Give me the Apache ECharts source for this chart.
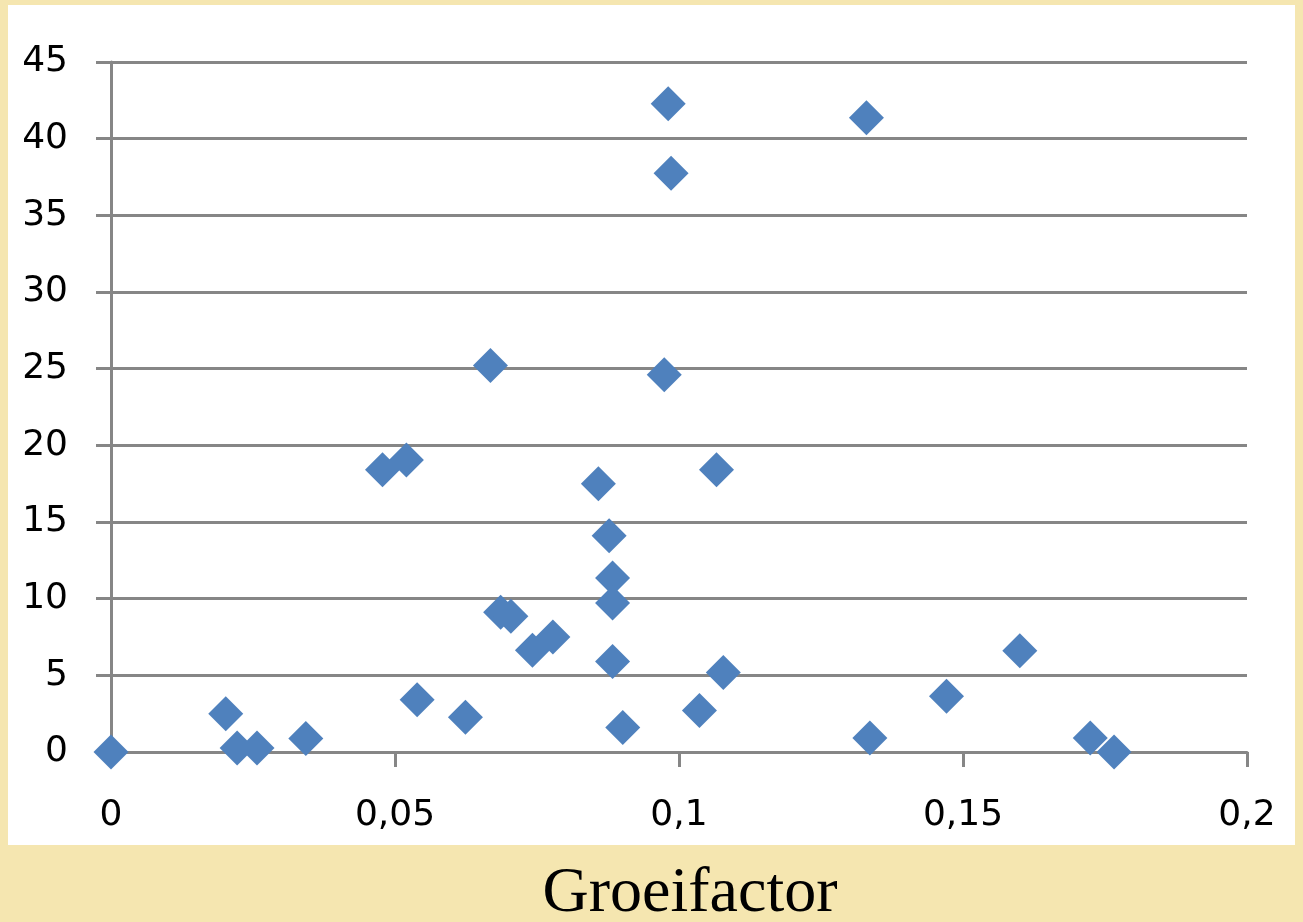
<!DOCTYPE html>
<html>
<head>
<meta charset="utf-8">
<title>Groeifactor</title>
<script src="https://cdn.jsdelivr.net/npm/echarts@6/dist/echarts.min.js"></script>
<style>
  html, body { margin: 0; padding: 0; background: #f5e6b0; }
  #chart { width: 1303px; height: 922px; }
</style>
</head>
<body>
<div id="chart"></div>
<script>
// groeifactor (x) tegen waarde (y)
var groeifactor = [0, 0.0202, 0.0222, 0.0257, 0.0343, 0.0478, 0.0520, 0.0539, 0.0624, 0.0668,
  0.0686, 0.0704, 0.0742, 0.0778, 0.0858, 0.0877, 0.0883, 0.0883, 0.0883, 0.0901,
  0.0974, 0.0981, 0.0986, 0.1036, 0.1066, 0.1078, 0.1330, 0.1336, 0.1471, 0.1600,
  0.1724, 0.1766];
var waarde = [0, 2.5, 0.26, 0.26, 0.88, 18.4, 19.05, 3.41, 2.26, 25.2,
  9.11, 8.85, 6.63, 7.5, 17.5, 14.1, 11.35, 9.72, 5.91, 1.6,
  24.6, 42.27, 37.74, 2.71, 18.4, 5.19, 41.36, 0.91, 3.63, 6.61,
  0.91, 0];
var xTicks = { min: 0, max: 0.2, interval: 0.05 };
var yTicks = { min: 0, max: 45, interval: 5 };

var punten = [];
for (var i = 0; i < groeifactor.length; i++) {
  punten.push([groeifactor[i], waarde[i]]);
}

var myChart = echarts.init(document.getElementById('chart'));
var option = {
  backgroundColor: '#f5e6b0',
  animation: false,
  graphic: [
    { // witte plotvlak-achtergrond
      type: 'rect', z: -10,
      shape: { x: 8, y: 5, width: 1287, height: 840 },
      style: { fill: '#ffffff' }
    },
    {
      type: 'text', z: 10,
      x: 690, y: 894,
      style: {
        text: 'Groeifactor',
        font: '64px "Liberation Serif", serif',
        fill: '#000000',
        textAlign: 'center',
        textVerticalAlign: 'middle'
      }
    }
  ],
  grid: { left: 111, right: 56, top: 62, bottom: 170 },
  xAxis: {
    type: 'value',
    min: xTicks.min, max: xTicks.max, interval: xTicks.interval,
    axisLine: { show: true, onZero: false, lineStyle: { color: '#868686', width: 3 } },
    axisTick: { show: true, length: 15, lineStyle: { color: '#868686', width: 3 } },
    splitLine: { show: false },
    axisLabel: {
      margin: 46,
      color: '#000',
      fontFamily: 'DejaVu Sans',
      fontSize: 36,
      formatter: function (v) { return String(+v.toFixed(2)).replace('.', ','); }
    }
  },
  yAxis: {
    type: 'value',
    min: yTicks.min, max: yTicks.max, interval: yTicks.interval,
    axisLine: { show: true, lineStyle: { color: '#868686', width: 3 } },
    axisTick: { show: true, length: 15, lineStyle: { color: '#868686', width: 3 } },
    splitLine: { show: true, lineStyle: { color: '#868686', width: 3 } },
    axisLabel: {
      margin: 43,
      color: '#000',
      fontFamily: 'DejaVu Sans',
      fontSize: 36
    }
  },
  series: [{
    type: 'scatter',
    data: punten,
    symbol: 'diamond',
    symbolSize: 35,
    itemStyle: { color: '#4f81bd', opacity: 1 }
  }]
};
myChart.setOption(option);
</script>
</body>
</html>
